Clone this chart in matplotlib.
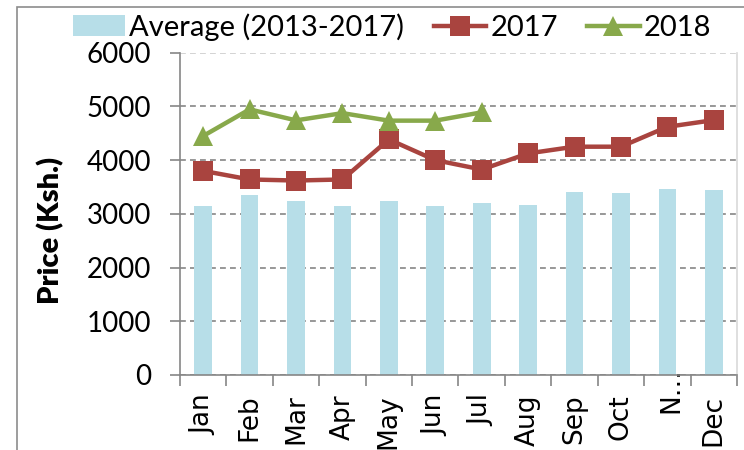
import matplotlib.pyplot as plt
import matplotlib.transforms as mtransforms
from matplotlib.patches import Rectangle
import numpy as np

months = ['Jan', 'Feb', 'Mar', 'Apr', 'May', 'Jun', 'Jul', 'Aug', 'Sep', 'Oct', 'N\u2026', 'Dec']
avg = [3140, 3350, 3240, 3150, 3230, 3140, 3195, 3165, 3400, 3380, 3470, 3450]
p2017 = [3800, 3640, 3620, 3640, 4385, 4000, 3825, 4125, 4250, 4250, 4620, 4745]
p2018 = [4450, 4945, 4740, 4875, 4735, 4735, 4890]
yticks = [0, 1000, 2000, 3000, 4000, 5000, 6000]

plt.rcParams['font.family'] = ['Lato', 'DejaVu Sans']

fig = plt.figure(figsize=(7.44, 4.5), dpi=100)
ax = fig.add_axes([0.2419, 0.1667, 0.7487, 0.7162])

x = np.arange(len(months))
bars = ax.bar(x, avg, width=0.38, color='#B7DEE8', label='Average (2013-2017)', zorder=2)
l17, = ax.plot(x, p2017, color='#A9443F', lw=3.2, marker='s', ms=14, mew=0,
               label='2017', zorder=3)
l18, = ax.plot(x[:len(p2018)], p2018, color='#88A94B', lw=3.2, marker='^', ms=14, mew=0,
               label='2018', zorder=4)

ax.set_xlim(-0.5, len(months) - 0.5)
ax.set_ylim(0, 6000)
ax.set_yticks(yticks)
ax.set_yticklabels([str(v) for v in yticks], fontsize=20)

ax.set_xticks(x)
ax.set_xticklabels(months, rotation=90, fontsize=19, family='DejaVu Sans')
ax.set_xticks(np.arange(-0.5, len(months)), minor=True)
ax.tick_params(axis='x', which='major', length=0, pad=14)
ax.tick_params(axis='x', which='minor', length=8, width=1.2, color='#868686')
ax.tick_params(axis='y', length=7, width=1.2, color='#868686', pad=14)

# the truncated Nov label sticks up into the plot in the original
nov = ax.get_xticklabels()[10]
nov.set_transform(nov.get_transform() +
                  mtransforms.ScaledTranslation(0.04, 0.27, fig.dpi_scale_trans))

ax.set_axisbelow(True)
ax.yaxis.grid(True, linestyle=(0, (3.5, 2.5)), color='#868686', linewidth=1.2)
ax.get_ygridlines()[-1].set_color('#cccccc')

for s in ['left', 'bottom']:
    ax.spines[s].set_color('#868686')
    ax.spines[s].set_linewidth(1.2)
ax.spines['top'].set_visible(False)
ax.spines['right'].set_color('#d9d9d9')
ax.spines['right'].set_linewidth(1.2)

ax.set_ylabel('Price (Ksh.)', fontsize=21, fontweight='heavy')
ax.yaxis.set_label_coords(-0.208, 0.45)

fig.legend(handles=[bars, l17, l18], loc='center', bbox_to_anchor=(0.527, 0.94),
           ncol=3, frameon=False, fontsize=21, handlelength=1.8, handletextpad=0.15,
           columnspacing=1.0, borderaxespad=0)

# chart area border, clipped at the right and bottom like the original
fig.add_artist(Rectangle((17 / 744, -0.5), 1.5, 0.5 + 1 - 7 / 450, fill=False,
                         edgecolor='#8c8c8c', linewidth=1.2,
                         transform=fig.transFigure))

fig.savefig('out.png', dpi=100)
